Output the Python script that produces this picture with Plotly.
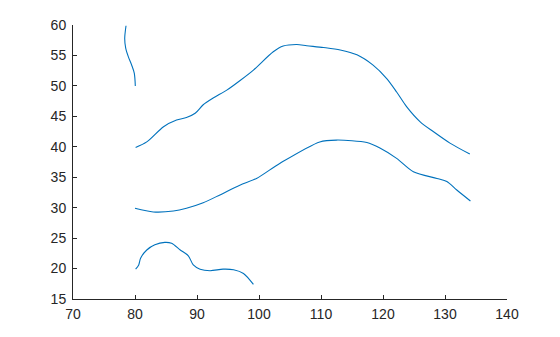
import plotly.graph_objects as go

# Curve A (short near-vertical segment, top left)
a_x = [78.55, 78.34, 78.5, 78.92, 79.47, 79.89, 80.05]
a_y = [59.88, 57.8, 56.2, 54.8, 53.4, 52.07, 49.98]

# Curve B (upper long curve)
b_x = [80.1, 81.9, 84.6, 86.7, 88.3, 89.7, 91.0, 92.6, 94.8, 96.9, 99.1, 102.3, 103.9,
       106.1, 107.7, 110.4, 113.1, 115.8, 118.4, 120.6, 122.2, 123.8, 126.0, 128.1, 130.8, 134.0]
b_y = [39.9, 40.8, 43.3, 44.4, 44.8, 45.5, 46.9, 48.0, 49.3, 50.85, 52.6, 55.6, 56.55,
       56.8, 56.6, 56.3, 55.9, 55.1, 53.4, 51.2, 49.0, 46.6, 44.1, 42.5, 40.6, 38.8]

# Curve C (middle long curve)
c_x = [80.0, 82.95, 86.2, 88.3, 91.0, 93.7, 96.9, 99.6, 103.4, 109.8, 112.5, 117.4,
       119.5, 122.2, 124.9, 128.7, 130.3, 131.9, 134.1]
c_y = [29.9, 29.3, 29.45, 29.9, 30.8, 32.1, 33.7, 34.8, 37.3, 40.8, 41.1, 40.7,
       39.8, 38.1, 35.9, 34.8, 34.3, 32.9, 31.1]

# Curve D (bottom short curve)
d_x = [80.1, 80.6, 80.9, 81.9, 83.2, 84.8, 85.9, 87.3, 88.6, 89.4, 90.5, 92.1,
       94.2, 95.9, 97.5, 99.1]
d_y = [19.9, 20.6, 21.7, 23.05, 23.9, 24.3, 24.15, 23.05, 22.1, 20.6, 19.9, 19.65,
       19.9, 19.8, 19.2, 17.4]

x_ticks = [70, 80, 90, 100, 110, 120, 130, 140]
y_ticks = [15, 20, 25, 30, 35, 40, 45, 50, 55, 60]

color = "rgb(0,114,189)"
fig = go.Figure()
for xs, ys in [(a_x, a_y), (b_x, b_y), (c_x, c_y), (d_x, d_y)]:
    fig.add_trace(go.Scatter(x=xs, y=ys, mode="lines",
                             line=dict(color=color, width=1.1, shape="spline", smoothing=0.8),
                             showlegend=False, hoverinfo="skip"))

axis_common = dict(showgrid=False, zeroline=False, showline=True, linecolor="#262626",
                   linewidth=1, ticks="inside", ticklen=4, tickcolor="#262626",
                   tickfont=dict(family="Liberation Sans, Arial, sans-serif", size=14, color="#262626"),
                   mirror=False)
fig.update_layout(
    width=560, height=337,
    margin=dict(l=73, r=53, t=25, b=38),
    paper_bgcolor="white", plot_bgcolor="white",
    xaxis=dict(range=[70, 140], tickvals=x_ticks, ticklabelstandoff=2, **axis_common),
    yaxis=dict(range=[15, 60], tickvals=y_ticks, ticklabelstandoff=3, **axis_common),
)
fig.write_html("out.html")
